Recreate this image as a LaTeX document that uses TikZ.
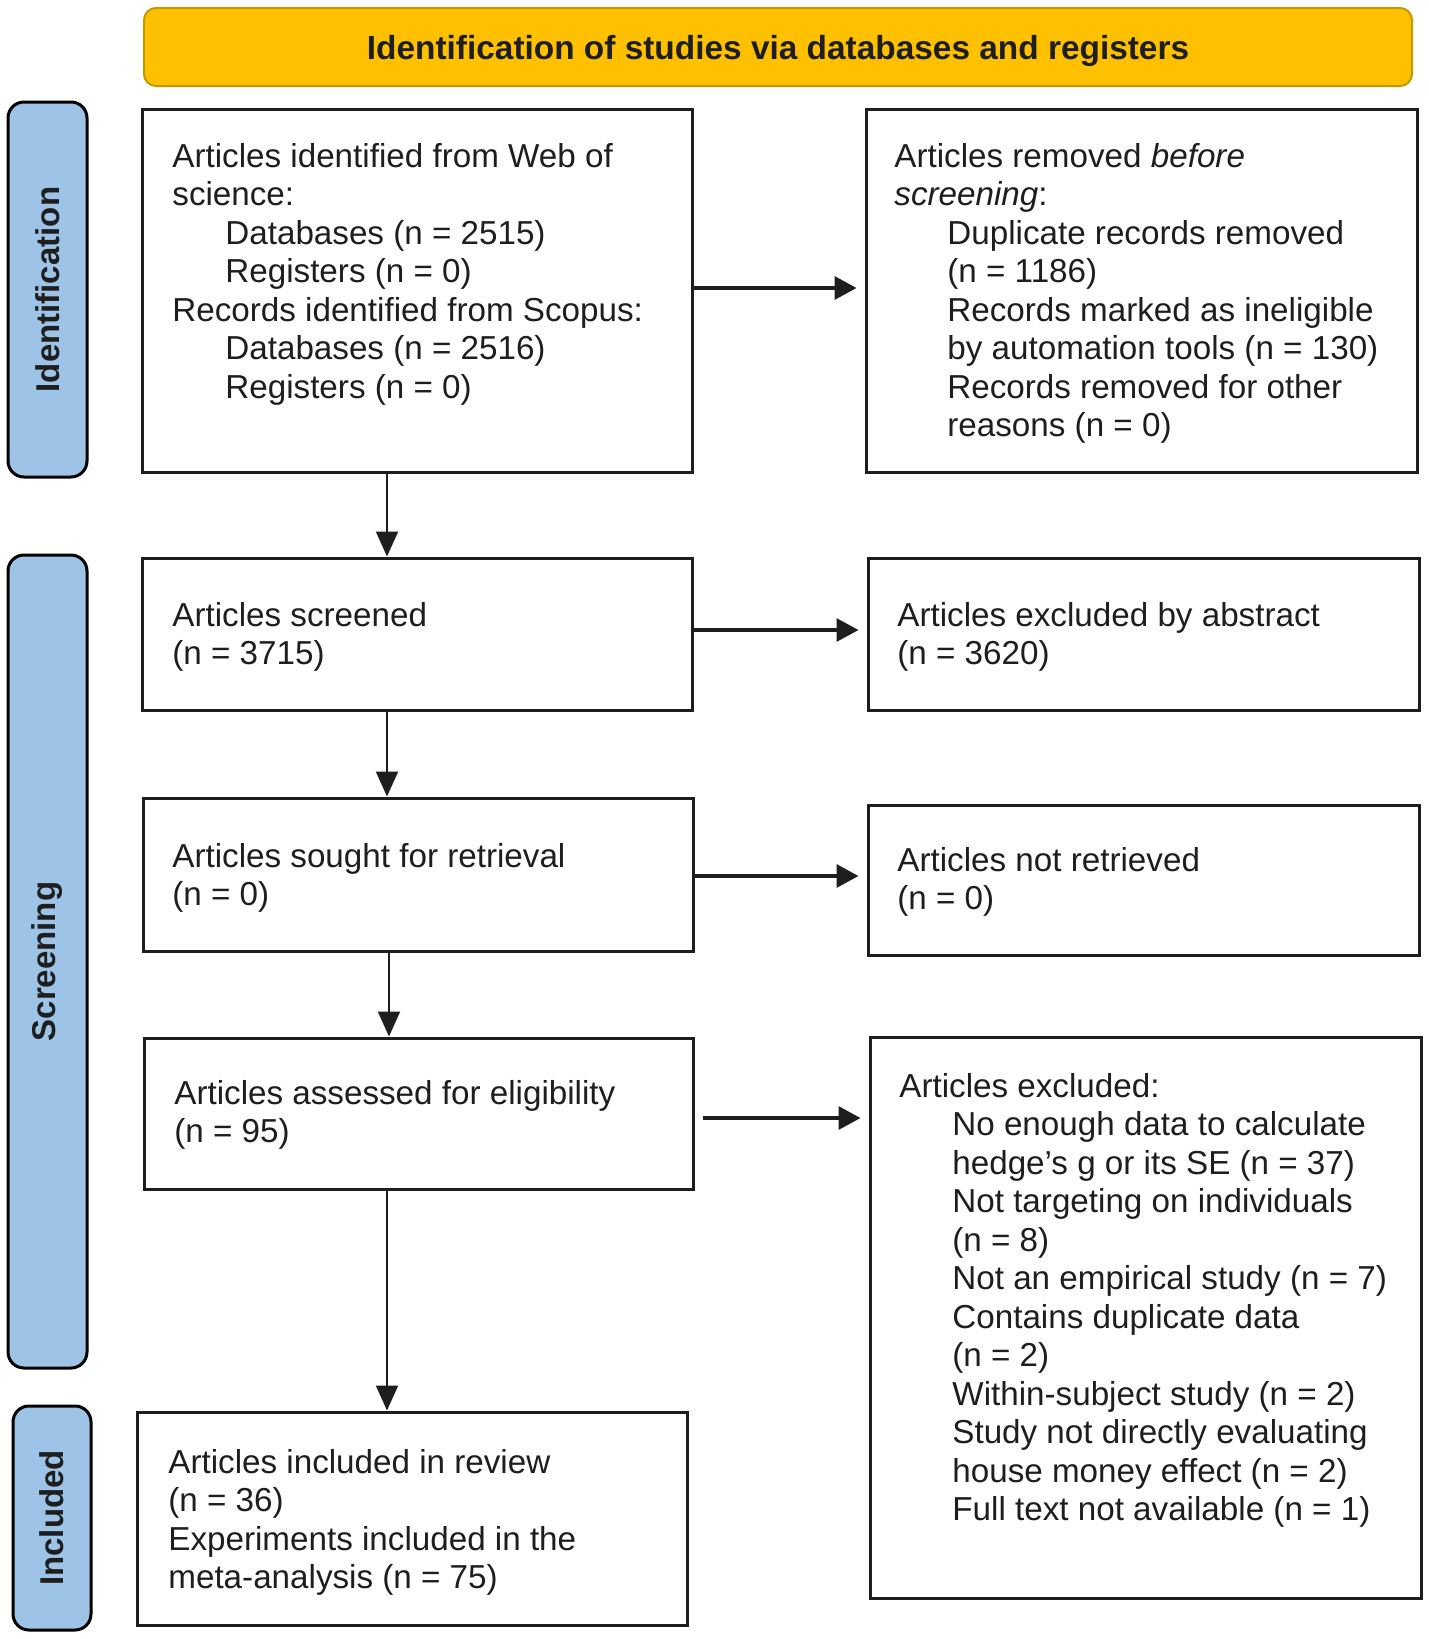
\documentclass[tikz,border=0pt]{standalone}
\usepackage{fontspec}
\setmainfont{Liberation Sans}
\usetikzlibrary{arrows.meta,fit}
\definecolor{bannerfill}{HTML}{FFC000}
\definecolor{bannerdraw}{HTML}{C09A00}
\definecolor{labfill}{HTML}{9DC3E6}
\definecolor{inkc}{HTML}{1E1E1E}
\newcommand\indt{\hspace*{26.5pt}}
\newcommand\btext[1]{\parbox[t]{320pt}{\fontsize{16.6}{19.25}\selectfont\raggedright #1}}
\tikzset{
  boxst/.style={draw=inkc, line width=1.5pt, inner sep=0pt, fill=white},
  bannerst/.style={draw=bannerdraw, line width=1pt, fill=bannerfill, rounded corners=6pt, inner sep=0pt},
  labst/.style={draw=black, line width=1.5pt, fill=labfill, rounded corners=8pt, inner sep=0pt},
  labtext/.style={rotate=90, font=\bfseries\fontsize{16.5}{19}\selectfont, text=inkc},
  txt/.style={anchor=base west, inner sep=0pt, text=inkc},
  harr/.style={draw=inkc, line width=1.6pt, -{Triangle[length=11pt,width=11.5pt]}, shorten >=4pt},
  varr/.style={draw=inkc, line width=1pt, -{Triangle[length=12.5pt,width=11pt]}}
}
\begin{document}
\begin{tikzpicture}[x=0.5pt,y=-0.5pt]
\useasboundingbox[fill=white] (0,0) rectangle (1429,1639);
% banner and side labels
\node[bannerst, fit={(144,8) (1412,86)}] (banner) {};
\node[font=\bfseries\fontsize{16.7}{19}\selectfont, text=inkc] at ([yshift=-2pt]banner.center) {Identification of studies via databases and registers};
\node[labst, fit={(8,102) (87,477)}] (idlab) {};
\node[labtext] at (idlab.center) {Identification};
\node[labst, fit={(8,555) (87,1368)}] (scrlab) {};
\node[labtext] at (scrlab.center) {Screening};
\node[labst, fit={(13,1406) (91,1630)}] (inclab) {};
\node[labtext] at (inclab.center) {Included};
% boxes
\node[boxst, fit={(142,109) (692,472)}] (b1) {};
\node[boxst, fit={(866,109) (1417,472)}] (r1) {};
\node[boxst, fit={(142,558) (692,710)}] (b2) {};
\node[boxst, fit={(868,558) (1419,710)}] (r2) {};
\node[boxst, fit={(143,798) (693,951)}] (b3) {};
\node[boxst, fit={(868,805) (1419,955)}] (r3) {};
\node[boxst, fit={(144,1038) (693,1189)}] (b4) {};
\node[boxst, fit={(870,1037) (1421,1598)}] (r4) {};
\node[boxst, fit={(137,1412) (687,1625)}] (b5) {};
% texts
\node[txt] (b1t) at (172,167) {\btext{Articles identified from Web of\\ science:\\ \indt Databases (n = 2515)\\ \indt Registers (n = 0)\\ Records identified from Scopus:\\ \indt Databases (n = 2516)\\ \indt Registers (n = 0)}};
\node[txt] (r1t) at (894,167) {\btext{Articles removed \emph{before}\\ \emph{screening}:\\ \indt Duplicate records removed\\ \indt (n = 1186)\\ \indt Records marked as ineligible\\ \indt by automation tools (n = 130)\\ \indt Records removed for other\\ \indt reasons (n = 0)}};
\node[txt] (b2t) at (172,626) {\btext{Articles screened\\ (n = 3715)}};
\node[txt] (r2t) at (897,626) {\btext{Articles excluded by abstract\\ (n = 3620)}};
\node[txt] (b3t) at (172,867) {\btext{Articles sought for retrieval\\ (n = 0)}};
\node[txt] (r3t) at (897,871) {\btext{Articles not retrieved\\ (n = 0)}};
\node[txt] (b4t) at (174,1104) {\btext{Articles assessed for eligibility\\ (n = 95)}};
\node[txt] (r4t) at (899,1097) {\btext{Articles excluded:\\ \indt No enough data to calculate\\ \indt hedge’s g or its SE (n = 37)\\ \indt Not targeting on individuals\\ \indt (n = 8)\\ \indt Not an empirical study (n = 7)\\ \indt Contains duplicate data\\ \indt (n = 2)\\ \indt Within-subject study (n = 2)\\ \indt Study not directly evaluating\\ \indt house money effect (n = 2)\\ \indt Full text not available (n = 1)}};
\node[txt] (b5t) at (168,1473) {\btext{Articles included in review\\ (n = 36)\\ Experiments included in the\\ meta-analysis (n = 75)}};
% connectors
\coordinate (ax) at (387,0);
\coordinate (ax2) at (389,0);
\draw[varr] (b1.south -| ax) -- (b2.north -| ax);
\draw[varr] (b2.south -| ax) -- (b3.north -| ax);
\draw[varr] (b3.south -| ax2) -- (b4.north -| ax2);
\draw[varr] (b4.south -| ax) -- (b5.north -| ax);
\coordinate (y1) at (0,288);
\coordinate (y2) at (0,630);
\coordinate (y3) at (0,876);
\coordinate (y4) at (0,1118);
\draw[harr] (b1.east |- y1) -- (r1.west |- y1);
\draw[harr] (b2.east |- y2) -- (r2.west |- y2);
\draw[harr] (b3.east |- y3) -- (r3.west |- y3);
\draw[harr, shorten <=4pt] (b4.east |- y4) -- (r4.west |- y4);
\end{tikzpicture}
\end{document}
